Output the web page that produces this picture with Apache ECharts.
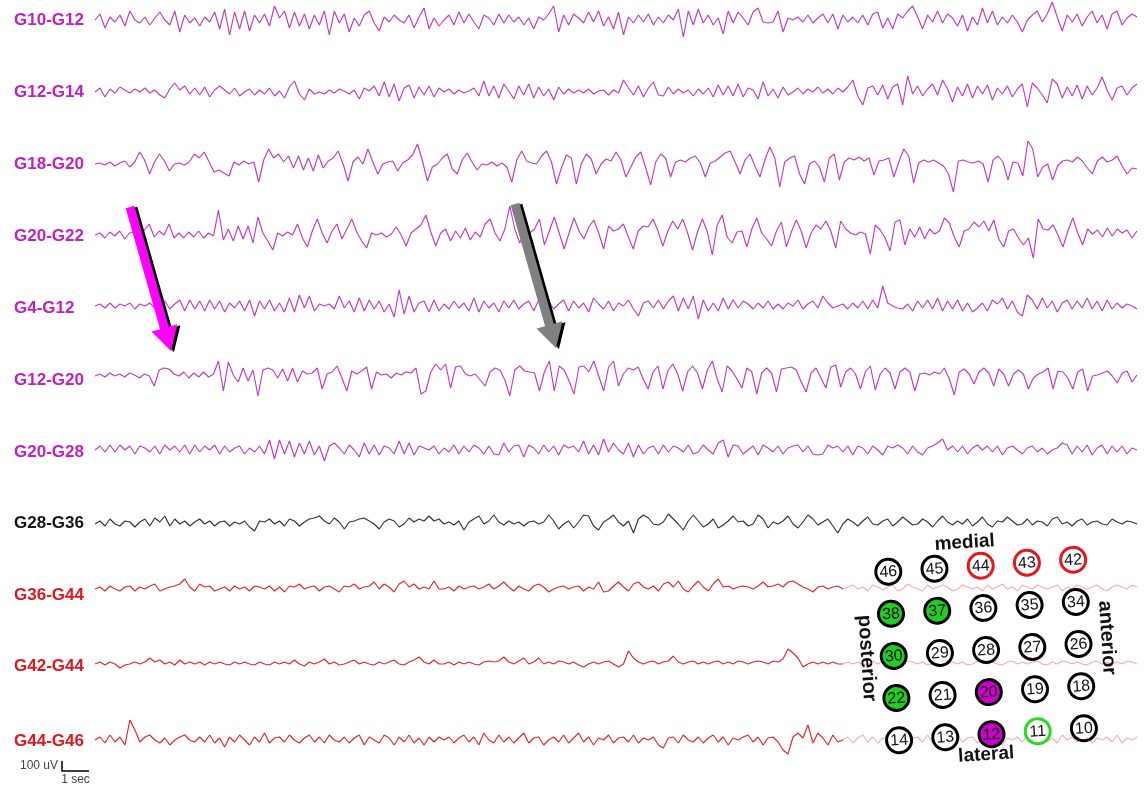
<!DOCTYPE html>
<html><head><meta charset="utf-8">
<script src="https://cdn.jsdelivr.net/npm/echarts@6/dist/echarts.min.js"></script>
<style>html,body{margin:0;padding:0;background:#fff}#c{width:1144px;height:787px}</style>
</head><body><div id="c"></div>
<script>
// ---------- DATA (values in uV, sampled uniformly over the recording) ----------
const channelNames = ['G10-G12','G12-G14','G18-G20','G20-G22','G4-G12','G12-G20','G20-G28','G28-G36','G36-G44','G42-G44','G44-G46'];
const channelGroup = ['mag','mag','mag','mag','mag','mag','mag','blk','red','red','red'];
const DURATION_S = 38.6;

const G10_G12 = [0,60,-80,30,-20,50,-60,90,0,-30,30,-50,20,80,0,-50,90,-120,50,-30,20,-60,30,-20,80,-90,110,-150,80,-90,90,-110,50,-30,60,-60,140,20,90,-80,80,-60,60,-90,50,-50,90,-150,90,-30,60,-120,20,-60,50,90,-30,-110,30,-20,50,0,-30,50,-80,30,120,-90,20,-60,
0,50,-50,80,-30,60,-20,-90,50,20,-50,60,-30,50,-20,30,-50,20,-90,30,0,60,140,-120,50,-50,60,20,-30,80,-20,90,-60,30,-90,80,-150,30,-30,50,-20,60,-50,30,-30,50,0,110,-170,90,-50,110,-30,50,-50,20,-140,90,-30,80,20,-50,80,120,-20,-30,-20,90,-120,20,
0,30,-20,50,-30,20,60,-30,60,-90,50,-20,30,-30,50,-50,60,80,-80,20,-90,60,20,90,140,30,-90,50,-20,90,-30,60,20,-60,50,-110,30,-50,120,-30,90,-50,30,-30,50,-20,-120,0,50,90,-20,60,180,30,-110,50,-20,60,-60,30,90,-30,50,-90,60,90,-50,20,60,30];

const G12_G14 = [0,40,-50,30,-10,50,20,-10,30,0,40,-10,20,-30,-60,30,90,20,60,-20,40,-30,50,-50,20,60,20,-20,40,-40,0,30,-30,20,-20,40,-40,10,-60,50,110,-20,-80,30,-20,0,-20,20,-10,30,10,-20,20,-70,40,10,60,-40,100,-50,80,-90,40,70,-60,50,-30,60,-50,40,
0,30,-20,20,-10,10,40,-40,110,-40,60,-60,80,10,-70,60,-30,80,-60,50,-40,30,-80,50,-20,30,-10,20,-10,30,-20,10,20,-30,20,-10,120,40,-30,60,-50,40,100,-30,-40,50,-20,30,-10,20,-40,30,-20,40,-50,70,-30,60,-40,80,-50,40,20,-70,100,-40,30,-60,50,-30,
0,40,-20,30,0,50,-10,30,-20,40,0,50,120,-40,-130,40,60,-30,70,-70,50,80,-130,160,-20,60,-40,30,80,-30,120,30,-100,50,-40,80,-60,60,-20,70,-80,40,-20,60,-50,30,80,-150,90,40,-30,-110,130,80,-60,50,-40,70,-70,60,-30,40,150,20,-80,40,60,-30,40,80];

const G18_G20 = [0,10,-10,20,-20,10,30,-30,20,120,40,-100,20,100,30,-70,0,10,-10,20,100,60,120,20,-80,-60,-90,-120,20,-10,30,0,20,-180,40,150,60,100,20,80,-40,80,-60,60,-70,90,-40,30,60,130,0,-170,20,70,0,150,20,-100,0,20,30,-70,10,40,90,200,30,-170,-30,0,
60,100,-50,-100,40,110,20,-60,0,-10,20,-20,10,-30,-180,40,130,30,10,0,80,130,20,-200,-40,90,60,-200,0,100,50,-100,0,50,30,120,40,-130,-30,70,120,-40,-210,20,100,60,-130,20,40,20,60,80,10,-130,10,30,70,110,130,20,-100,40,100,-20,-130,40,170,60,-230,20,
60,80,-100,-200,0,30,-30,-180,60,100,-160,20,60,40,70,30,60,-110,30,40,60,-130,20,150,80,-190,10,40,20,40,10,-20,-100,-280,30,40,20,10,30,0,-180,40,80,20,-160,20,10,-120,230,150,-130,-30,0,-160,-20,30,40,20,70,30,-40,-100,30,70,20,40,80,-20,-100,-40,-50];

const G20_G22 = [0,20,-30,30,-10,40,-40,20,30,-20,50,110,-20,40,0,110,-30,20,-30,30,-20,40,-30,20,-10,250,-50,60,-60,90,-40,90,-80,180,20,-60,-150,20,-10,30,0,110,-30,-120,40,160,20,-80,40,110,-40,60,160,30,-60,-130,20,0,20,-20,10,80,0,-110,20,60,100,200,30,-110,
20,60,-60,40,-30,70,-50,30,-20,110,160,20,-60,60,290,60,-80,30,20,60,160,-100,40,180,20,-140,20,170,40,-40,80,150,20,-140,90,40,60,110,-20,-140,40,90,80,160,40,-110,40,140,60,160,20,-150,30,160,30,-200,100,200,-20,-80,30,40,-120,60,170,20,-40,-110,40,130,-120,
30,150,40,-130,20,100,60,140,40,-130,140,60,20,0,30,10,-190,100,50,-30,-160,130,150,-100,60,-20,80,-40,60,10,40,170,120,-20,-120,40,60,130,80,140,40,150,-40,-120,40,60,-30,-100,-30,-230,160,60,50,100,0,-120,40,170,20,-100,60,10,50,-20,70,-10,60,20,50,-30,40];

const G4_G12 = [0,20,-20,30,-20,20,0,30,-30,20,0,30,-20,0,50,-30,20,60,-50,60,-30,50,-50,60,-30,50,-60,30,-20,50,-50,60,-100,50,-30,60,-50,30,-60,80,-60,110,-20,100,-50,20,0,20,-30,100,-20,50,-60,80,-50,60,-30,50,-60,20,-110,160,-80,100,-60,30,50,-60,60,-50,
20,-30,50,-20,30,-50,80,-60,50,-20,30,-60,50,-20,60,-30,20,50,-50,60,-30,50,-30,20,60,-50,50,-20,30,-60,80,20,-30,50,-50,30,0,60,-30,-100,30,50,-20,60,-30,50,100,-50,80,-30,100,-130,60,-50,30,-50,80,-30,60,-20,50,20,-30,30,-20,50,-30,20,-30,30,
0,60,-30,20,50,-20,100,30,-20,0,20,-30,30,-20,50,-30,60,-20,200,30,0,-20,-30,20,-50,50,-20,60,-30,80,-50,50,-30,60,-50,30,-60,-20,30,-50,60,20,80,-30,50,-60,-100,110,60,-30,80,-20,50,-60,30,60,-30,50,-20,80,-30,50,-50,60,-30,30,-20,20,0,-30];

const G12_G20 = [0,20,-10,30,0,20,-10,30,10,-20,20,0,-100,60,80,70,20,0,40,-20,30,-10,40,-10,20,150,-150,140,10,-60,80,-50,60,-200,60,80,60,-20,70,-50,80,-60,50,20,30,80,-130,20,40,100,-20,-150,50,20,50,90,-130,40,10,20,-20,30,10,40,30,80,-180,-150,40,120,
60,120,-120,90,100,20,0,20,-40,-100,40,80,60,-40,-200,60,100,50,40,30,-150,40,150,-150,100,60,-50,-180,90,100,40,150,0,-150,90,150,-100,20,80,60,90,-30,-130,40,100,-130,50,120,20,-150,40,100,30,-130,60,150,-30,-160,100,50,-30,-120,80,40,-180,30,80,30,-160,70,80,
90,60,-60,-160,30,80,-20,-120,90,110,-110,40,80,20,-130,40,100,-140,20,80,30,-130,40,80,40,-150,20,30,10,40,20,80,-30,-190,40,70,20,-80,40,80,30,-100,70,20,-100,20,60,20,-130,-20,20,40,80,-130,50,40,-20,-130,40,70,-150,0,10,30,50,0,-70,30,50,-60,10];

const G20_G28 = [0,40,-20,50,-20,50,0,40,-40,40,20,-20,40,-40,50,0,40,-20,50,-40,50,-20,40,0,50,-40,40,-20,20,40,-40,20,-20,40,-40,100,-90,100,-40,90,-70,70,-40,90,-50,40,-110,40,70,20,-40,50,0,-70,70,-40,50,-50,40,20,-40,90,-40,70,-50,40,20,0,40,-40,
20,-20,50,-40,40,-20,50,20,-40,40,-40,-50,70,-20,40,50,-70,50,20,-40,50,-20,40,-50,50,20,40,-20,90,-40,50,-50,110,-20,70,0,-40,70,-70,50,-40,20,40,-40,50,-20,40,20,-20,50,-40,-20,50,0,-40,70,100,-70,50,40,-40,0,40,-50,50,20,-20,40,-40,20,
40,50,-20,40,-40,-50,-40,50,20,40,-20,40,-50,40,20,-40,40,0,-50,40,20,50,20,-40,40,-20,-50,20,40,70,110,0,40,-20,40,-40,20,50,0,40,-20,40,-50,20,40,0,-40,20,40,-20,20,-40,0,20,70,50,-40,40,-20,50,-50,20,50,-40,40,-20,40,-40,20,0];

const G28_G36 = [-20,10,-40,30,-20,-40,10,0,-50,0,30,-40,40,0,60,-40,30,-20,10,-40,0,30,-20,10,-40,0,10,-40,0,-20,10,-50,-90,10,0,30,-20,10,-40,30,10,-40,0,30,40,60,10,-20,40,0,-70,0,10,30,40,10,-20,-70,0,30,10,-50,-20,40,0,30,10,60,10,30,
-20,0,-30,10,-80,0,30,60,-20,10,70,0,-30,10,-20,0,-40,0,10,-20,0,70,10,-70,-20,10,-60,0,70,60,-40,-80,0,30,70,0,-40,10,-110,30,70,40,-20,-30,0,80,30,-20,-80,10,70,10,-50,-20,30,-60,-30,10,60,0,10,-40,-20,70,30,-60,0,-20,10,60,-20,-60,0,70,30,-30,0,30,-40,-110,
-20,30,0,-40,10,50,-20,-30,10,30,-40,0,50,10,-30,-20,30,0,-50,10,60,0,-30,10,-20,30,-40,0,50,-20,-50,10,0,50,10,-30,-20,30,-30,10,0,-40,30,50,-20,0,-40,10,30,-30,0,10,-20,-30,30,0,-20,10,0,-20];

const G36_G44 = [-10,10,-30,20,-10,-30,10,20,-30,10,-10,20,40,-30,-10,10,20,40,90,10,-30,40,10,20,-30,-10,10,-30,20,-10,10,-30,20,10,-10,20,-30,10,-40,20,10,40,-10,10,20,-30,10,20,-10,-40,20,10,40,-10,10,20,60,-10,40,10,-40,40,70,10,40,-10,10,-10,70,-10,
-10,10,-30,20,-10,10,20,-10,10,40,-10,20,60,10,-30,20,-10,-30,20,40,10,-40,-10,10,20,-10,10,20,-30,10,-10,60,-40,-30,20,60,10,-30,40,60,10,-10,20,-30,40,60,10,70,-10,-40,20,70,10,-30,40,90,10,20,-10,10,20,10,-10,20,60,10,20,40,10,60,70,40,10,-10,-40,10,20,-10,10,20,
-10,10,30,-10,10,-30,30,10,-20,10,30,-30,-10,40,10,-10,-30,30,-10,10,30,10,-30,-10,30,10,-10,10,-30,30,-10,10,40,-10,10,-30,30,10,-10,30,10,-10,10,30,-30,10,-10,30,10,-10,10,30,-10,-30,10,30,10,-10,30,10];

const G42_G44 = [-10,10,-20,10,-10,-50,-20,-10,10,-10,10,50,10,30,-10,10,-20,30,-10,10,-10,10,-20,10,-10,10,-10,-20,10,-10,10,-10,-20,10,-10,-20,10,-10,10,-10,30,-10,-30,10,-10,10,40,-10,10,-20,-10,10,30,-10,10,-10,-20,10,-10,10,30,-10,-20,10,30,60,10,-10,30,-10,
-10,10,-20,10,-10,10,-10,-20,10,20,10,20,60,10,-10,20,50,-10,10,50,-10,10,-10,20,10,-10,10,-20,-40,-10,10,-10,10,20,-10,-40,-10,120,50,10,-10,10,20,-10,10,20,70,10,-10,10,20,-10,10,-10,10,20,-10,10,-10,20,10,-10,10,20,10,-10,20,10,40,140,100,50,-40,-10,10,-10,10,-10,10,-10,
-10,10,-10,10,-20,-10,20,-10,10,-10,-20,10,-10,20,10,-10,10,-20,-10,10,20,-10,10,-10,10,-20,-10,20,10,-10,10,-10,-20,10,20,-10,10,-10,10,20,-10,-20,10,-10,20,10,-10,10,-10,-20,10,20,-10,10,-10,10,-10,20,10,-10];

const G44_G46 = [0,30,-30,50,-20,30,-50,200,100,-20,30,50,0,-30,20,-50,0,30,50,0,-20,30,-20,50,-30,20,-70,30,-20,50,0,-50,30,-20,70,-30,20,30,-20,50,0,-30,20,50,-20,30,-30,50,0,-20,30,-30,20,50,-50,30,0,-30,50,20,-50,30,-20,50,-30,20,-50,30,-20,30,
0,30,-30,20,50,-20,30,-50,70,0,-30,50,-20,30,-30,20,70,-30,20,30,-50,0,30,-20,50,-30,20,70,-20,30,-50,20,0,50,-30,20,30,-20,50,-30,20,0,30,-50,-80,20,30,-30,50,0,-20,30,-30,20,50,-20,30,-50,20,0,30,50,-20,30,-50,20,30,-20,-100,-140,30,70,20,150,-30,70,20,-50,50,-20,
0,30,-30,20,50,-20,30,-30,20,0,50,-20,30,-50,20,30,-20,50,-30,20,0,30,-30,50,-20,20,30,-30,20,50,-20,30,-50,20,0,30,-20,50,-30,20,30,-20,20,-30,50,0,30,-20,20,50,-30,20,0,30,-20,50,-30,20,0,30];

const channelData = [G10_G12,G12_G14,G18_G20,G20_G22,G4_G12,G12_G20,G20_G28,G28_G36,G36_G44,G42_G44,G44_G46];

// electrode grid inset (rows medial -> lateral, columns posterior -> anterior)
const electrodeRows = [[46,45,44,43,42],[38,37,36,35,34],[30,29,28,27,26],[22,21,20,19,18],[14,13,12,11,10]];
const redRing = [44,43,42];
const greenFill = [38,37,30,22];
const magentaFill = [20,12];
const greenRing = [11];
const scaleBarUv = 100, scaleBarSec = 1;

// ---------- LAYOUT / STYLE ----------
const traceLeft = 95, traceWidth = 1042;
const baselines = [20, 92, 164, 235, 306, 376, 450, 522, 588, 663, 740];
const labelYs   = [20, 92, 164, 236, 308, 380, 452, 523, 595, 666, 741];
const bandHalf = 36, pxPerUv = 0.1;
const traceColor = {mag:'#c23ac4', blk:'#333333', red:'#e3262c'};
const labelColor = {mag:'#c21fc2', blk:'#151515', red:'#e2161d'};
const FONT = "'Liberation Sans', Arial, sans-serif";

const grids=[], xAxes=[], yAxes=[], series=[];
channelData.forEach((arr,i)=>{
  const top = Math.max(0, baselines[i]-bandHalf);
  const above = baselines[i]-top, below = bandHalf;
  grids.push({left:traceLeft, width:traceWidth, top:top, height:above+below});
  xAxes.push({type:'value', gridIndex:i, min:0, max:DURATION_S, show:false});
  yAxes.push({type:'value', gridIndex:i, min:-below/pxPerUv, max:above/pxPerUv, show:false});
  const n = arr.length;
  series.push({type:'line', xAxisIndex:i, yAxisIndex:i, showSymbol:false, symbol:'none', silent:true, clip:false,
    lineStyle:{width:1.15, color:traceColor[channelGroup[i]]},
    data: arr.map((v,k)=>[k*DURATION_S/(n-1), v]), z: 2});
});

const graphic = [];
channelNames.forEach((nm,i)=>{
  graphic.push({type:'text', x:14, y:labelYs[i], z:10,
    style:{text:nm, font:'bold 17px '+FONT, fill:labelColor[channelGroup[i]], textAlign:'left', textVerticalAlign:'middle'}});
});

function arrowPts(sx,sy,tx,ty,w,h,L){
  const dx=tx-sx, dy=ty-sy, len=Math.hypot(dx,dy), ux=dx/len, uy=dy/len, nx=-uy, ny=ux;
  const bx=tx-ux*L, by=ty-uy*L;
  return [[sx+nx*w,sy+ny*w],[bx+nx*w,by+ny*w],[bx+nx*h,by+ny*h],[tx,ty],[bx-nx*h,by-ny*h],[bx-nx*w,by-ny*w],[sx-nx*w,sy-ny*w]];
}
function addArrow(sx,sy,tx,ty,color){
  const pts = arrowPts(sx,sy,tx,ty,4.5,13.5,24);
  graphic.push({type:'polygon', z:20, shape:{points:pts.map(p=>[p[0]+3,p[1]+1])}, style:{fill:'#000'}});
  graphic.push({type:'polygon', z:21, shape:{points:pts}, style:{fill:color}});
}
addArrow(130,207,171,351,'#ff00ff');
addArrow(515,204,556,348,'#808080');

const pxPerSec = traceWidth/DURATION_S;
const sbX=62, sbY=771;
graphic.push({type:'polyline', z:10, shape:{points:[[sbX,sbY-scaleBarUv*pxPerUv],[sbX,sbY],[sbX+scaleBarSec*pxPerSec,sbY]]}, style:{stroke:'#000', lineWidth:1.5, fill:null}});
graphic.push({type:'text', z:10, x:58, y:766, style:{text:scaleBarUv+' uV', font:'12px '+FONT, fill:'#444', textAlign:'right', textVerticalAlign:'middle'}});
graphic.push({type:'text', z:10, x:sbX+scaleBarSec*pxPerSec/2, y:780, style:{text:scaleBarSec+' sec', font:'12px '+FONT, fill:'#444', textAlign:'center', textVerticalAlign:'middle'}});

graphic.push({type:'rect', z:30, shape:{x:843, y:531, width:294, height:240}, style:{fill:'rgba(255,255,255,0.62)'}});
const insetChildren = [];
const colStep=46.3, rowStep=42.2, ZI=40;
electrodeRows.forEach((row,r)=>{
  row.forEach((num,c)=>{
    let fill='#ffffff', stroke='#000';
    if (redRing.includes(num)) stroke='#e8161c';
    if (greenRing.includes(num)) stroke='#22dd22';
    if (greenFill.includes(num)) fill='#22cc22';
    if (magentaFill.includes(num)) fill='#cc00cc';
    insetChildren.push({type:'circle', z:ZI, shape:{cx:c*colStep, cy:r*rowStep, r:12.5}, style:{fill, stroke, lineWidth:3}});
    insetChildren.push({type:'text', z:ZI+1, style:{text:String(num), x:c*colStep, y:r*rowStep+0.5, font:'16px '+FONT, fill:'#111', textAlign:'center', textVerticalAlign:'middle'}});
  });
});
insetChildren.push({type:'text', z:ZI, x:78, y:-24, style:{text:'medial', font:'bold 19px '+FONT, fill:'#111', textAlign:'center', textVerticalAlign:'middle'}});
insetChildren.push({type:'text', z:ZI, x:86, y:189, style:{text:'lateral', font:'bold 19px '+FONT, fill:'#111', textAlign:'center', textVerticalAlign:'middle'}});
insetChildren.push({type:'text', z:ZI, x:-27, y:85, rotation:-Math.PI/2, style:{text:'posterior', font:'bold 20px '+FONT, fill:'#111', textAlign:'center', textVerticalAlign:'middle'}});
insetChildren.push({type:'text', z:ZI, x:214, y:80, rotation:-Math.PI/2, style:{text:'anterior', font:'bold 20px '+FONT, fill:'#111', textAlign:'center', textVerticalAlign:'middle'}});
graphic.push({type:'group', z:ZI, x:888.3, y:571.7, rotation:0.064, children:insetChildren});

const chart = echarts.init(document.getElementById('c'), null, {renderer:'canvas'});
chart.setOption({animation:false, backgroundColor:'#fff', grid:grids, xAxis:xAxes, yAxis:yAxes, series:series, graphic:graphic});
</script></body></html>
